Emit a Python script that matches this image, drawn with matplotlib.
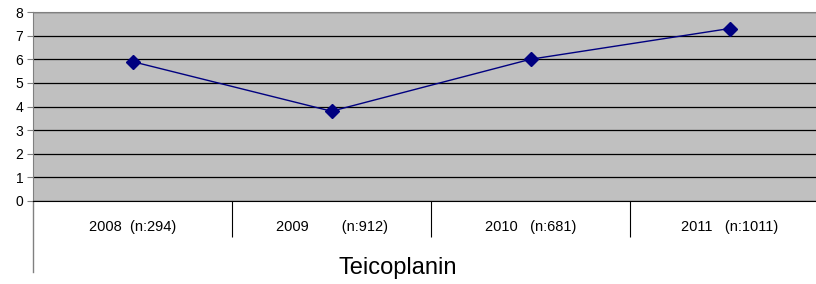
import matplotlib.pyplot as plt
from matplotlib.transforms import blended_transform_factory

categories = ['2008  (n:294)', '2009        (n:912)', '2010   (n:681)', '2011   (n:1011)']
values = [5.9, 3.8, 6.0, 7.3]
title = 'Teicoplanin'

plt.rcParams['font.family'] = ['Liberation Sans', 'DejaVu Sans']

W, H = 816, 284
fig = plt.figure(figsize=(W / 100, H / 100), dpi=100)
# plot area runs off the right edge in the original
ax = fig.add_axes([33 / W, (H - 201) / H, 796 / W, 189 / H])
ax.set_facecolor('#c0c0c0')

x = range(len(categories))
ax.plot(x, values, color='#000080', lw=1, marker='D', markersize=7.5, zorder=3)

ax.set_xlim(-0.5, len(categories) - 0.5)
ax.set_ylim(0, 8)
ax.set_yticks(range(0, 9))
ax.tick_params(axis='y', labelsize=10, length=4, color='#808080', pad=3)
ax.grid(axis='y', color='#000000', lw=0.9)
ax.set_axisbelow(True)

# category labels, separators as long minor ticks
ax.set_xticks(list(x))
ax.set_xticklabels(categories, fontsize=10.5)
ax.tick_params(axis='x', which='major', length=0, pad=14)
ax.set_xticks([i + 0.5 for i in range(len(categories) - 1)], minor=True)
ax.tick_params(axis='x', which='minor', length=26, color='#000000', width=0.8)

for s in ['top', 'right']:
    ax.spines[s].set_color('#808080')
ax.spines['bottom'].set_color('#000000')
ax.spines['left'].set_color('#808080')

# left axis line continues down past the labels
tr = blended_transform_factory(ax.transAxes, ax.transAxes)
ax.plot([0, 0], [0, -71 / 189], transform=tr, color='#808080', lw=1, clip_on=False)

fig.text(398 / W, 1 - 268 / H, title, fontsize=17, ha='center', va='center')

fig.savefig('out.png', dpi=100)
